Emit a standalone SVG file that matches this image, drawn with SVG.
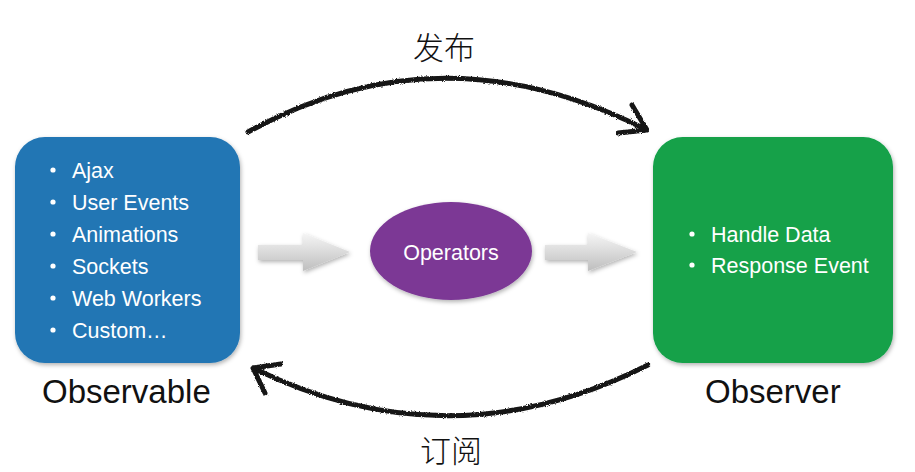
<svg xmlns="http://www.w3.org/2000/svg" width="915" height="472" viewBox="0 0 915 472">
  <style>
    .item { font-family: "Liberation Sans", Arial, sans-serif; font-size: 21.5px; fill: #ffffff; }
    .title { font-family: "Liberation Sans", Arial, sans-serif; font-size: 33px; fill: #111111; }
    .cjk { font-family: "Noto Sans CJK SC", sans-serif; font-size: 31px; font-weight: 300; fill: #111111; text-anchor: middle; }
    .dot { fill: #ffffff; }
    .chalk { fill: none; stroke: #141414; stroke-width: 5; stroke-linecap: round; stroke-linejoin: round; filter: url(#rough); }
    .gray { fill: url(#grayGrad); filter: url(#shadow); }
  </style>
  <defs>
    <filter id="shadow" x="-10%" y="-10%" width="130%" height="130%">
      <feDropShadow dx="1" dy="2" stdDeviation="2" flood-color="#000" flood-opacity="0.3"/>
    </filter>
    <filter id="rough" x="-5%" y="-20%" width="110%" height="140%">
      <feTurbulence type="fractalNoise" baseFrequency="0.9" numOctaves="2" result="n"/>
      <feDisplacementMap in="SourceGraphic" in2="n" scale="3" xChannelSelector="R" yChannelSelector="G"/>
    </filter>
    <linearGradient id="grayGrad" x1="0" y1="0" x2="0" y2="1">
      <stop offset="0" stop-color="#f6f6f6"/>
      <stop offset="1" stop-color="#bebebe"/>
    </linearGradient>
  </defs>
  <rect width="915" height="472" fill="#ffffff"/>

  <g id="observable">
    <rect x="15" y="137" width="225" height="226" rx="30" ry="30" fill="#2176b4" filter="url(#shadow)"/>
    <circle class="dot" cx="53" cy="170" r="2.6"/>
    <text class="item" x="72" y="178">Ajax</text>
    <circle class="dot" cx="53" cy="202" r="2.6"/>
    <text class="item" x="72" y="210">User Events</text>
    <circle class="dot" cx="53" cy="234" r="2.6"/>
    <text class="item" x="72" y="242">Animations</text>
    <circle class="dot" cx="53" cy="266" r="2.6"/>
    <text class="item" x="72" y="274">Sockets</text>
    <circle class="dot" cx="53" cy="298" r="2.6"/>
    <text class="item" x="72" y="306">Web Workers</text>
    <circle class="dot" cx="53" cy="330" r="2.6"/>
    <text class="item" x="72" y="338">Custom…</text>
    <text class="title" x="42" y="403">Observable</text>
  </g>

  <g id="operators">
    <ellipse cx="451" cy="251" rx="81" ry="49" fill="#7b3895" filter="url(#shadow)"/>
    <text class="item" x="451" y="260" text-anchor="middle">Operators</text>
  </g>

  <g id="observer">
    <rect x="653" y="137" width="240" height="226" rx="30" ry="30" fill="#12a148" filter="url(#shadow)"/>
    <circle class="dot" cx="692" cy="234" r="2.6"/>
    <text class="item" x="711" y="242">Handle Data</text>
    <circle class="dot" cx="692" cy="265" r="2.6"/>
    <text class="item" x="711" y="273">Response Event</text>
    <text class="title" x="705" y="403">Observer</text>
  </g>

  <g id="connectors">
    <path class="gray" d="M258,245 L303,245 L303,233 L350,252 L303,271 L303,260 L258,260 Z"/>
    <path class="gray" d="M545,245 L588,245 L588,233 L637,252 L588,271 L588,260 L545,260 Z"/>
    <path class="chalk" d="M248,132 Q440,26 645,129"/>
    <path class="chalk" d="M632,105 L647,130 L618,133"/>
    <path class="chalk" d="M648,365 Q450,465 253,368"/>
    <path class="chalk" d="M281,364 L253,368 L265,393"/>
  </g>

  <text class="cjk" x="444" y="59">发布</text>
  <text class="cjk" x="451" y="462">订阅</text>
</svg>
